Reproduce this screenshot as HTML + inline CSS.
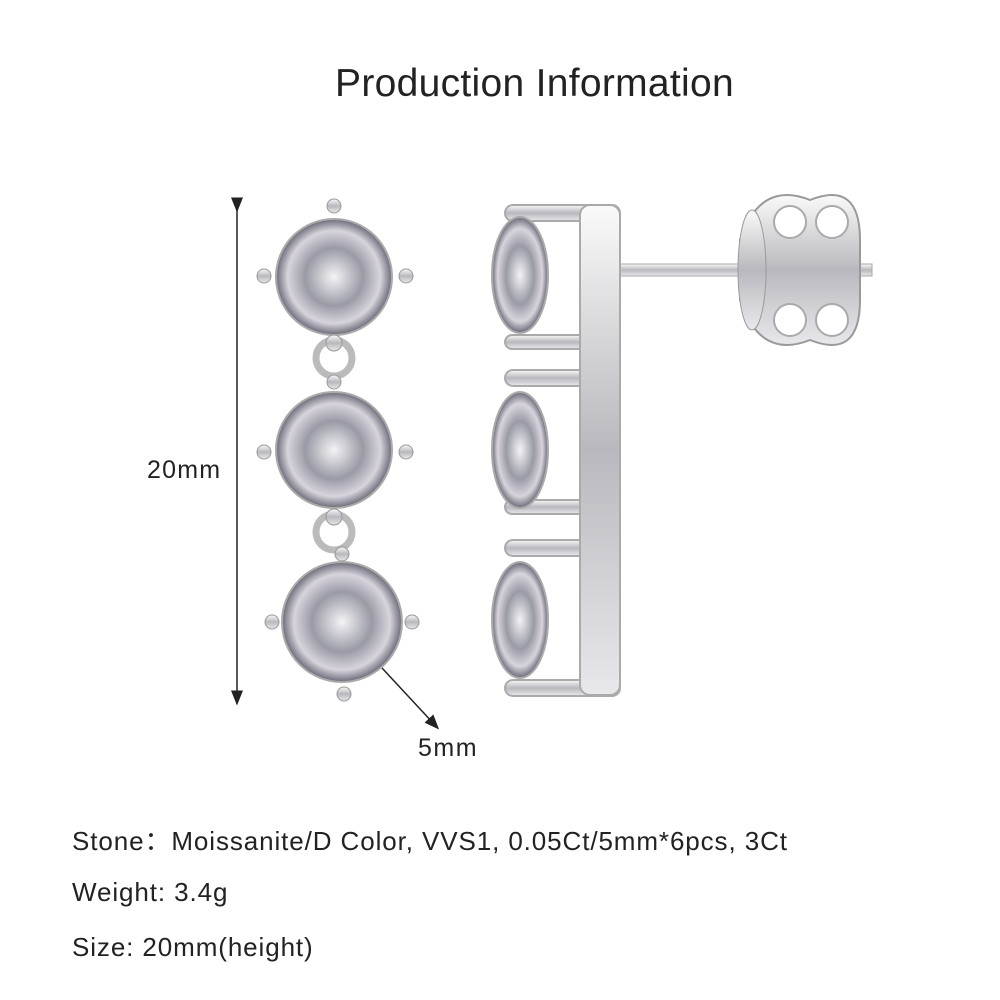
<!DOCTYPE html>
<html><head><meta charset="utf-8"><style>
html,body{margin:0;padding:0;background:#fff;}
body{width:1000px;height:1000px;position:relative;overflow:hidden;font-family:"Liberation Sans","Noto Sans CJK SC",sans-serif;color:#222;}
.t{position:absolute;white-space:nowrap;}
</style></head><body>
<svg width="1000" height="1000" style="position:absolute;left:0;top:0">
<defs>
<radialGradient id="g" cx="50%" cy="50%" r="50%">
<stop offset="0" stop-color="#f4f4f6"/><stop offset="0.5" stop-color="#9a9aa6"/><stop offset="0.8" stop-color="#d8d4dc"/><stop offset="1" stop-color="#6a6a78"/>
</radialGradient>
<linearGradient id="m" x1="0" y1="0" x2="0" y2="1"><stop offset="0" stop-color="#fafafa"/><stop offset="0.5" stop-color="#b8b8be"/><stop offset="1" stop-color="#e8e8ec"/></linearGradient>
<marker id="ah" markerWidth="10" markerHeight="10" refX="5" refY="5" orient="auto"><path d="M0,1 L10,5 L0,9 z" fill="#222"/></marker>
</defs>
<line x1="237" y1="205" x2="237" y2="698" stroke="#222" stroke-width="1.5" marker-start="url(#ah)" marker-end="url(#ah)"/>
<line x1="382" y1="668" x2="434" y2="724" stroke="#222" stroke-width="1.5" marker-end="url(#ah)"/>
<circle cx="334" cy="358" r="18" fill="none" stroke="#bbb" stroke-width="7"/>
<circle cx="334" cy="532" r="18" fill="none" stroke="#bbb" stroke-width="7"/>
<g stroke="#aaa" stroke-width="2">
<circle cx="334" cy="277" r="58" fill="url(#g)"/>
<circle cx="334" cy="450" r="58" fill="url(#g)"/>
<circle cx="342" cy="622" r="60" fill="url(#g)"/>
</g>
<g fill="url(#m)" stroke="#999">
<circle cx="334" cy="206" r="7"/><circle cx="264" cy="276" r="7"/><circle cx="406" cy="276" r="7"/><circle cx="334" cy="343" r="8"/>
<circle cx="334" cy="382" r="7"/><circle cx="264" cy="452" r="7"/><circle cx="406" cy="452" r="7"/><circle cx="334" cy="517" r="8"/>
<circle cx="342" cy="554" r="7"/><circle cx="272" cy="622" r="7"/><circle cx="412" cy="622" r="7"/><circle cx="344" cy="694" r="7"/>
</g>
<rect x="620" y="264" width="252" height="12" fill="url(#m)" stroke="#aaa"/>
<g fill="url(#m)" stroke="#999" stroke-width="2">
<path d="M740 240 Q760 180 810 200 Q860 180 860 240 L860 300 Q860 360 810 340 Q760 360 740 300 Z"/>
</g>
<g fill="#fff" stroke="#aaa" stroke-width="2">
<circle cx="790" cy="222" r="16"/><circle cx="832" cy="320" r="16"/><circle cx="790" cy="320" r="16"/><circle cx="832" cy="222" r="16"/>
</g>
<ellipse cx="752" cy="270" rx="14" ry="60" fill="url(#m)" stroke="#999"/>
<g fill="url(#m)" stroke="#aaa" stroke-width="2">
<rect x="505" y="205" width="115" height="16" rx="8"/>
<rect x="505" y="335" width="115" height="14" rx="7"/>
<rect x="505" y="370" width="115" height="16" rx="8"/>
<rect x="505" y="500" width="115" height="14" rx="7"/>
<rect x="505" y="540" width="115" height="16" rx="8"/>
<rect x="505" y="680" width="115" height="16" rx="8"/>
<rect x="580" y="205" width="40" height="490" rx="10"/>
</g>
<g stroke="#aaa" stroke-width="2">
<ellipse cx="520" cy="275" rx="28" ry="58" fill="url(#g)"/>
<ellipse cx="520" cy="450" rx="28" ry="58" fill="url(#g)"/>
<ellipse cx="520" cy="620" rx="28" ry="58" fill="url(#g)"/>
</g>
</svg>
<div class="t" style="left:335px;top:62px;font-size:39px;letter-spacing:0.3px;">Production Information</div>
<div class="t" style="left:147px;top:456px;font-size:25px;letter-spacing:1.2px;">20mm</div>
<div class="t" style="left:418px;top:734px;font-size:25px;letter-spacing:1.5px;">5mm</div>
<div class="t" style="left:72px;top:821px;font-size:26px;letter-spacing:0.9px;">Stone：Moissanite/D Color, VVS1, 0.05Ct/5mm*6pcs, 3Ct</div>
<div class="t" style="left:72px;top:877px;font-size:26px;letter-spacing:0.9px;">Weight: 3.4g</div>
<div class="t" style="left:72px;top:932px;font-size:26px;letter-spacing:0.9px;">Size: 20mm(height)</div>
</body></html>
